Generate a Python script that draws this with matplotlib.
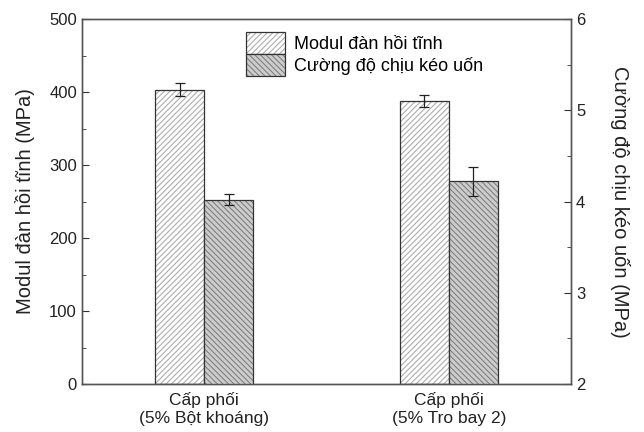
import matplotlib.pyplot as plt
import numpy as np
from matplotlib.ticker import MultipleLocator

plt.rcParams['font.family'] = ['Liberation Sans', 'DejaVu Sans']
plt.rcParams['hatch.linewidth'] = 0.8

groups = ["Cấp phối\n(5% Bột khoáng)", "Cấp phối\n(5% Tro bay 2)"]
modul = [403, 388]
modul_err = [9, 8.5]
cuong_do = [4.02, 4.22]
cuong_do_err = [0.06, 0.16]

x = np.arange(len(groups))
w = 0.2

fig, ax = plt.subplots(figsize=(6.44, 4.32), dpi=100)
ax2 = ax.twinx()

b1 = ax.bar(x - w / 2, modul, w, yerr=modul_err, capsize=3.5, color='white',
            edgecolor='#333333', linewidth=0.9, hatch='//////',
            error_kw=dict(ecolor='#222222', elinewidth=0.9, capthick=0.9),
            label='Modul đàn hồi tĩnh', zorder=2)
for p in b1:
    p._hatch_color = (0.68, 0.68, 0.68, 1)
b2 = ax2.bar(x + w / 2, cuong_do, w, bottom=0, yerr=cuong_do_err, capsize=3.5,
             color='#cdcdcd', edgecolor='#333333', linewidth=0.9, hatch='\\\\\\\\\\\\',
             error_kw=dict(ecolor='#222222', elinewidth=0.9, capthick=0.9),
             label='Cường độ chịu kéo uốn', zorder=2)
for p in b2:
    p._hatch_color = (0.5, 0.5, 0.5, 1)

ax.set_xlim(-0.5, 1.5)
ax.set_ylim(0, 500)
ax2.set_ylim(2, 6)
ax.set_xticks(x)
ax.set_xticklabels(groups, fontsize=12.5, color='#222222', linespacing=1.25)
ax.tick_params(axis='x', length=0, pad=6)

ax.yaxis.set_major_locator(MultipleLocator(100))
ax.yaxis.set_minor_locator(MultipleLocator(50))
ax2.yaxis.set_major_locator(MultipleLocator(1))
ax2.yaxis.set_minor_locator(MultipleLocator(0.5))
for a in (ax, ax2):
    a.tick_params(axis='y', which='both', direction='in', labelsize=12,
                  colors='#333333', labelcolor='#222222')
    a.tick_params(axis='y', which='major', length=5)
    a.tick_params(axis='y', which='minor', length=3)
    for s in a.spines.values():
        s.set_color('#555555')
        s.set_linewidth(1.0)

ax.set_ylabel('Modul đàn hồi tĩnh (MPa)', fontsize=14.5, color='#222222', labelpad=10)
ax2.set_ylabel('Cường độ chịu kéo uốn (MPa)', fontsize=14.5, color='#222222',
               rotation=270, labelpad=32)

ax.legend([b1, b2], [b1.get_label(), b2.get_label()], loc='upper center',
          bbox_to_anchor=(0.578, 1.01), frameon=False, fontsize=13,
          handlelength=2.2, handleheight=1.5, labelspacing=0.0, handletextpad=0.5)

fig.subplots_adjust(left=0.127, right=0.887, top=0.956, bottom=0.111)
fig.savefig('out.png', dpi=100)
